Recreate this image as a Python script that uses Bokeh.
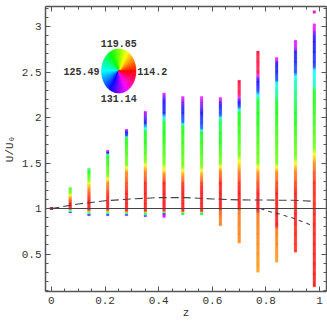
import math
import colorsys
from bokeh.plotting import figure
from bokeh.models import Range1d, LinearAxis, Label, FixedTicker, ColumnDataSource
from bokeh.embed import file_html
from bokeh.resources import INLINE

# ---------------- data ----------------
z_bars = [0.07, 0.14, 0.21, 0.28, 0.35, 0.42, 0.49, 0.56, 0.63, 0.70, 0.77, 0.84, 0.91, 0.98]

# colour stops along each column: y level and hue (degrees)
bar_y = [
    [0.95, 0.965, 0.98, 0.99, 1.06, 1.12, 1.15, 1.17, 1.23],
    [0.92, 0.94, 0.96, 0.98, 1.10, 1.22, 1.28, 1.31, 1.42, 1.44],
    [0.92, 0.94, 0.96, 0.98, 1.12, 1.28, 1.33, 1.36, 1.58, 1.61, 1.64],
    [0.92, 0.94, 0.97, 1.18, 1.40, 1.45, 1.48, 1.78, 1.80, 1.85, 1.87],
    [0.91, 0.93, 0.97, 1.25, 1.42, 1.48, 1.52, 1.85, 1.90, 1.95, 2.04, 2.07],
    [0.90, 0.94, 0.97, 1.27, 1.38, 1.43, 1.50, 1.95, 2.02, 2.05, 2.20, 2.27],
    [0.93, 0.95, 0.97, 1.23, 1.36, 1.42, 1.46, 1.90, 1.95, 2.10, 2.17, 2.23],
    [0.93, 0.95, 0.97, 1.23, 1.36, 1.42, 1.46, 1.84, 1.88, 2.08, 2.16, 2.23],
    [0.81, 0.97, 1.00, 1.27, 1.42, 1.46, 1.50, 1.98, 2.02, 2.15, 2.19, 2.22],
    [0.62, 0.98, 1.00, 1.23, 1.42, 1.52, 1.58, 2.06, 2.09, 2.12, 2.19, 2.22, 2.26, 2.41],
    [0.30, 0.95, 0.97, 1.17, 1.39, 1.46, 1.50, 2.20, 2.24, 2.30, 2.43, 2.46, 2.50, 2.73],
    [0.41, 0.78, 0.80, 1.17, 1.40, 1.46, 1.50, 2.18, 2.24, 2.38, 2.41, 2.60, 2.63, 2.66],
    [0.52, 1.18, 1.42, 1.50, 1.56, 2.00, 2.30, 2.45, 2.50, 2.72, 2.76, 2.85],
    [0.14, 1.28, 1.50, 1.60, 1.66, 2.30, 2.34, 2.52, 2.56, 2.90, 2.95, 3.03],
]
bar_hue = [
    [300, 200, 110, 0, 0, 30, 60, 95, 110],
    [300, 200, 110, 0, 0, 30, 60, 95, 120, 160],
    [300, 200, 110, 0, 0, 30, 60, 95, 120, 230, 300],
    [300, 190, 0, 0, 30, 60, 95, 120, 230, 240, 300],
    [300, 190, 0, 0, 30, 60, 95, 130, 200, 240, 270, 300],
    [300, 270, 0, 0, 30, 60, 95, 130, 200, 235, 245, 300],
    [170, 110, 0, 0, 30, 60, 95, 120, 220, 240, 270, 300],
    [180, 110, 0, 0, 30, 60, 95, 125, 220, 245, 275, 300],
    [30, 20, 0, 0, 30, 60, 95, 140, 220, 245, 280, 300],
    [30, 25, 0, 0, 30, 60, 95, 125, 180, 230, 250, 290, 345, 348],
    [35, 25, 0, 0, 30, 60, 95, 130, 175, 230, 250, 300, 345, 350],
    [35, 25, 0, 0, 30, 60, 95, 125, 155, 170, 225, 245, 290, 300],
    [5, 0, 30, 60, 95, 120, 150, 175, 225, 245, 280, 300],
    [0, 5, 30, 60, 95, 125, 165, 180, 230, 245, 285, 300],
]

# isolated points
point_z = [0.0, 0.98]
point_y = [1.0, 3.16]
point_color = ["#b0204a", "#e020d0"]

# reference curves
solid_z = [0.0, 1.05]
solid_y = [1.0, 1.0]
dash_z = [0.0, 0.1, 0.2, 0.3, 0.4, 0.5, 0.6, 0.7, 0.8, 0.9, 0.98]
dash_y = [1.0, 1.05, 1.085, 1.105, 1.12, 1.12, 1.105, 1.095, 1.093, 1.09, 1.08]
dot_z = [0.78, 0.80, 0.85, 0.90, 0.95, 0.98]
dot_y = [1.0, 0.975, 0.94, 0.895, 0.84, 0.80]

# hue wheel legend
wheel_labels = ["114.2", "119.85", "125.49", "131.14"]

x_ticks = [0, 0.2, 0.4, 0.6, 0.8, 1]
x_tick_labels = ["0", "0.2", "0.4", "0.6", "0.8", "1"]
y_ticks = [0.5, 1, 1.5, 2, 2.5, 3]
y_tick_labels = ["0.5", "1", "1.5", "2", "2.5", "3"]
x_title = "z"
y_title = "U/U\u2080"


def hue_hex(deg, s=0.88):
    r, g, b = colorsys.hsv_to_rgb((deg % 360) / 360.0, s, 1.0)
    return "#%02x%02x%02x" % (int(r * 255), int(g * 255), int(b * 255))


# ---------------- figure ----------------
p = figure(width=327, height=327,
           x_range=Range1d(-0.022, 1.0256), y_range=Range1d(0.088, 3.22),
           output_backend="svg", toolbar_location=None,
           min_border_left=40, min_border_right=1, min_border_top=6, min_border_bottom=36,
           x_axis_location=None, y_axis_location=None)
p.grid.visible = False
p.outline_line_color = None
p.background_fill_color = "white"

FONT = "Liberation Mono"
AX = "#555555"
TXT = "#333333"

xminor = [round(0.05 * i, 2) for i in range(0, 21)]
yminor = [round(0.1 * i, 1) for i in range(1, 33)]


def style_axis(ax):
    ax.axis_line_color = AX
    ax.axis_line_width = 1.5
    ax.major_tick_in = 5
    ax.major_tick_out = 0
    ax.minor_tick_in = 3
    ax.minor_tick_out = 0
    ax.major_tick_line_color = AX
    ax.minor_tick_line_color = AX
    return ax


def label_axis(ticks, minor, labels, title):
    ax = style_axis(LinearAxis(ticker=FixedTicker(ticks=ticks, minor_ticks=minor)))
    ax.major_label_overrides = {t: l for t, l in zip(ticks, labels)}
    ax.major_label_text_font = FONT
    ax.major_label_text_font_size = "11px"
    ax.major_label_text_color = TXT
    ax.axis_label = title
    ax.axis_label_text_font = FONT
    ax.axis_label_text_font_size = "11px"
    ax.axis_label_text_font_style = "normal"
    ax.axis_label_text_color = TXT
    return ax


def bare_axis(ticks, length, line=True):
    # ticks drawn as "minor" ticks only, so that no tick labels exist
    ax = style_axis(LinearAxis(ticker=FixedTicker(ticks=[], minor_ticks=ticks)))
    ax.minor_tick_in = length
    ax.major_label_standoff = 0
    if not line:
        ax.axis_line_color = None
    return ax


xb = label_axis(x_ticks, xminor, x_tick_labels, x_title)
xb.major_label_standoff = 5
xb.axis_label_standoff = 0
p.add_layout(xb, "below")

yl = label_axis(y_ticks, yminor, y_tick_labels, y_title)
yl.major_label_standoff = 4
yl.axis_label_standoff = 3
p.add_layout(yl, "left")

p.add_layout(bare_axis(x_ticks, 5), "above")
p.add_layout(bare_axis(xminor, 3, line=False), "above")
p.add_layout(bare_axis(y_ticks, 5), "right")
p.add_layout(bare_axis(yminor, 3, line=False), "right")

# ---------------- coloured columns ----------------
half = 0.0048
L, R, B, T, C = [], [], [], [], []
for z, ys, hs in zip(z_bars, bar_y, bar_hue):
    for i in range(len(ys) - 1):
        y0, y1, h0, h1 = ys[i], ys[i + 1], hs[i], hs[i + 1]
        n = max(1, int(round((y1 - y0) / 0.01)))
        for j in range(n):
            a = y0 + (y1 - y0) * j / n
            b = y0 + (y1 - y0) * (j + 1) / n
            h = h0 + (h1 - h0) * (j + 0.5) / n
            L.append(z - half); R.append(z + half); B.append(a); T.append(b); C.append(hue_hex(h))
src = ColumnDataSource(dict(left=L, right=R, bottom=B, top=T, color=C))
p.quad(left="left", right="right", bottom="bottom", top="top", source=src,
       fill_color="color", line_color="color", line_width=0.3)

p.scatter(point_z, point_y, marker="square", size=3, color=point_color, line_color=None)

# ---------------- reference curves ----------------
p.line(solid_z, solid_y, line_color="#444444", line_width=1.1)
p.line(dash_z, dash_y, line_color="#444444", line_width=1.1, line_dash="8 4")
p.line(dot_z, dot_y, line_color="#444444", line_width=1.1, line_dash="4 4")

# ---------------- hue wheel ----------------
cx, cy, rx, ry = 0.251, 2.511, 0.064, 0.242
wx, wy, wc = [], [], []
N = 90
for k in range(N):
    a0 = 2 * math.pi * k / N
    a1 = 2 * math.pi * (k + 1) / N
    am = (a0 + a1) / 2
    wx.append([cx, cx + rx * math.cos(a0), cx + rx * math.cos(am), cx + rx * math.cos(a1)])
    wy.append([cy, cy + ry * math.sin(a0), cy + ry * math.sin(am), cy + ry * math.sin(a1)])
    wc.append(hue_hex(360.0 * (k + 0.5) / N, s=1.0))
p.patches(wx, wy, fill_color=wc, line_color=wc, line_width=0.6)

lab_pos = [(0.32, 2.505, "left", "middle"), (0.251, 2.815, "center", "middle"),
           (0.1795, 2.505, "right", "middle"), (0.251, 2.205, "center", "middle")]
for txt, (lx, ly, al, bl) in zip(wheel_labels, lab_pos):
    p.add_layout(Label(x=lx, y=ly, text=txt, text_align=al, text_baseline=bl,
                       text_font=FONT, text_font_size="10px", text_font_style="bold",
                       text_color=TXT))

open("out.html", "w").write(file_html(p, INLINE))
